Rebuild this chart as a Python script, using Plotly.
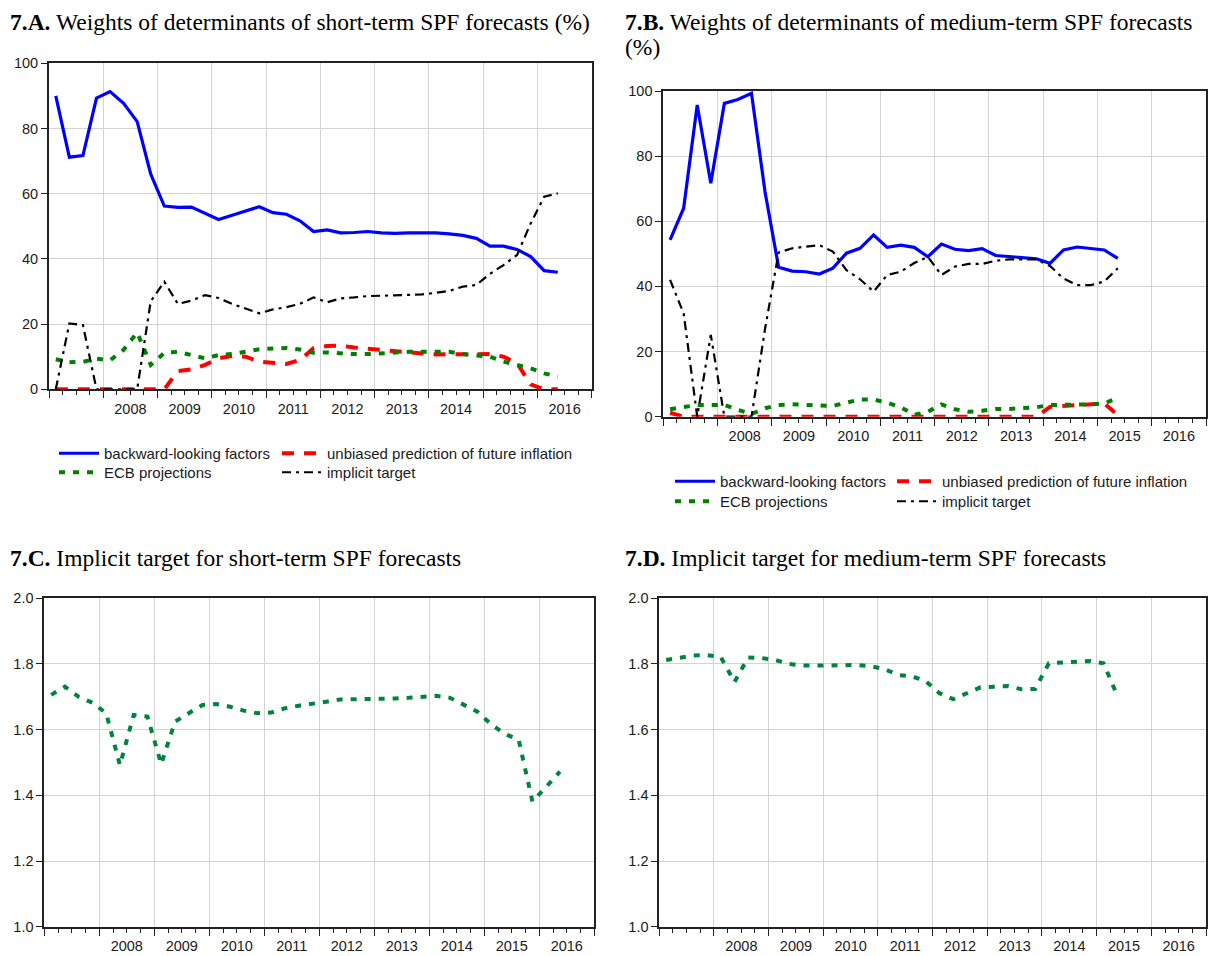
import plotly.graph_objects as go

# ---------------------------------------------------------------------------
# Data: quarterly weights (%) and implicit targets, 2007Q1 onwards
# ---------------------------------------------------------------------------
years = [str(y) for y in range(2008, 2017)]

# 7.A short-term SPF forecasts, 2007Q1-2016Q2
backward_short = [90.0, 71.2, 71.7, 89.3, 91.3, 87.7, 82.1, 66.0, 56.2, 55.8,
                  55.9, 54.0, 52.1, 53.4, 54.7, 56.0, 54.2, 53.7, 51.7, 48.4,
                  48.9, 48.0, 48.1, 48.4, 48.0, 47.8, 48.0, 48.1, 48.0, 47.7,
                  47.2, 46.3, 43.9, 43.9, 42.9, 40.7, 36.4, 35.9]
unbiased_short = [0.0, 0.0, 0.0, 0.0, 0.0, 0.0, 0.0, 0.0, 0.0, 5.6,
                  6.1, 7.5, 9.5, 10.2, 10.0, 8.5, 8.0, 7.8, 9.0, 12.6,
                  13.3, 13.4, 12.8, 12.4, 12.1, 11.5, 11.3, 11.0, 10.7, 10.7,
                  10.7, 11.0, 10.8, 10.0, 8.0, 1.5, 0.0, 0.0]
ecb_short = [9.2, 8.3, 8.4, 9.4, 8.9, 12.1, 17.4, 7.5, 11.2, 11.5,
             10.5, 9.5, 10.5, 10.8, 11.5, 12.3, 12.5, 12.7, 12.2, 11.2,
             11.3, 11.0, 10.8, 10.8, 11.0, 11.5, 11.5, 11.5, 11.5, 11.5,
             10.8, 10.5, 10.0, 8.5, 7.5, 6.4, 4.9, 3.9]
target_w_short = [0.0, 20.2, 19.7, 0.0, 0.0, 0.0, 0.0, 27.0, 33.0, 26.2,
                  27.2, 28.9, 28.0, 26.2, 24.8, 23.3, 24.5, 25.2, 26.2, 28.2,
                  26.7, 27.9, 28.2, 28.6, 28.7, 28.8, 28.9, 29.1, 29.6, 30.2,
                  31.5, 32.0, 35.4, 38.1, 41.2, 50.9, 59.1, 60.1]

# 7.B medium-term SPF forecasts, 2007Q1-2015Q2
backward_med = [54.3, 64.0, 95.7, 71.7, 96.2, 97.4, 99.3, 69.0, 45.9, 44.7,
                44.5, 43.8, 45.6, 50.2, 51.7, 55.8, 52.0, 52.7, 52.0, 49.1,
                53.0, 51.4, 51.0, 51.6, 49.5, 49.1, 48.8, 48.5, 47.1, 51.2,
                52.1, 51.7, 51.2, 48.6]
unbiased_med = [1.2, 0.0, 0.0, 0.0, 0.0, 0.0, 0.0, 0.0, 0.0, 0.0,
                0.0, 0.0, 0.0, 0.0, 0.0, 0.0, 0.0, 0.0, 0.0, 0.0,
                0.0, 0.0, 0.0, 0.0, 0.0, 0.0, 0.0, 0.0, 3.0, 3.3,
                3.6, 3.9, 4.1, 0.5]
ecb_med = [2.3, 2.9, 3.6, 3.6, 3.6, 2.1, 0.8, 2.6, 3.6, 3.8,
           3.6, 3.3, 3.3, 4.3, 5.3, 5.3, 4.3, 2.9, 0.6, 1.5,
           3.8, 2.3, 1.5, 1.8, 2.4, 2.4, 2.6, 2.9, 3.6, 3.5,
           3.7, 3.8, 4.1, 5.8]
target_w_med = [42.0, 31.7, 0.0, 25.1, 0.0, 0.0, 0.0, 27.0, 50.4, 51.7,
                52.2, 52.7, 50.7, 45.0, 42.2, 38.4, 43.5, 44.5, 47.2, 49.1,
                43.5, 46.1, 46.9, 46.9, 47.9, 48.3, 48.3, 48.3, 46.3, 42.4,
                40.4, 40.4, 41.5, 45.6]

# 7.C implicit target, short-term forecasts
target_short = [1.706, 1.731, 1.700, 1.682, 1.650, 1.492, 1.645, 1.640, 1.495, 1.624,
                1.650, 1.675, 1.678, 1.670, 1.658, 1.650, 1.652, 1.665, 1.673, 1.678,
                1.685, 1.692, 1.692, 1.693, 1.693, 1.695, 1.697, 1.700, 1.703, 1.697,
                1.675, 1.655, 1.616, 1.587, 1.569, 1.381, 1.426, 1.472]

# 7.D implicit target, medium-term forecasts
target_med = [1.812, 1.820, 1.826, 1.827, 1.821, 1.745, 1.820, 1.818, 1.812, 1.800,
              1.795, 1.795, 1.796, 1.797, 1.797, 1.793, 1.784, 1.766, 1.762, 1.748,
              1.711, 1.693, 1.711, 1.729, 1.731, 1.733, 1.723, 1.724, 1.802, 1.804,
              1.804, 1.809, 1.802, 1.705]


def quarter_labels(n, start_year=2007):
    return [f"{start_year + k // 4}Q{k % 4 + 1}" for k in range(n)]


def to_decimal_year(labels):
    # each observation sits in the middle of its quarter
    out = []
    for lab in labels:
        y, q = lab.split("Q")
        out.append(int(y) + (int(q) - 0.5) / 4)
    return out


x_short = to_decimal_year(quarter_labels(len(backward_short)))
x_med = to_decimal_year(quarter_labels(len(backward_med)))

# ---------------------------------------------------------------------------
# Styling
# ---------------------------------------------------------------------------
W, H = 1219, 956
SANS = "Liberation Sans, Arial, sans-serif"
SERIF = "Liberation Serif, Times New Roman, serif"
FRAME = "#222222"
GRID = "#d3d3d3"
TICK_FONT = dict(family=SANS, size=14.5, color="#1a1a1a")

BLUE = dict(color="#0000ff", width=3.2)
RED = dict(color="#ff0000", width=4, dash="12px,10px")
GREEN = dict(color="#008000", width=4, dash="6px,8px")
BLACK = dict(color="#000000", width=2.2, dash="9px,5px,3px,5px")
TEAL = dict(color="#00843d", width=4, dash="6px,8px")


def xdom(left, right):
    return [left / W, right / W]


def ydom(top, bottom):
    return [1 - bottom / H, 1 - top / H]


fig = go.Figure()

panels = [
    # (x-axis id, y-axis id, x domain, y domain)
    ("x", "y", xdom(49, 591.7), ydom(63.3, 389.3)),
    ("x2", "y2", xdom(663.3, 1206), ydom(91, 416.7)),
    ("x3", "y3", xdom(44.3, 594.3), ydom(598.3, 926.7)),
    ("x4", "y4", xdom(659.3, 1206), ydom(598.3, 926.7)),
]

series_ab = [
    (x_short, backward_short, unbiased_short, ecb_short, target_w_short, "x", "y", 0),
    (x_med, backward_med, unbiased_med, ecb_med, target_w_med, "x2", "y2", 1),
]
names = ["backward-looking factors", "unbiased prediction of future inflation",
         "ECB projections", "implicit target"]
styles = [BLUE, RED, GREEN, BLACK]

legend_layout = {}
# legend entry anchors: (column x px, row y px) per panel
legend_cols = [(54, 277), (670, 892)]
legend_rows = [(437, 456), (465, 485)]

for xs, b, u, e, t, xa, ya, p in series_ab:
    for k, (vals, nm, st) in enumerate(zip([b, u, e, t], names, styles)):
        col = legend_cols[p][k % 2]
        row = legend_rows[p][k // 2]
        lname = "legend" if (p == 0 and k == 0) else f"legend{p * 4 + k + 1}"
        fig.add_trace(go.Scatter(
            x=xs, y=vals, mode="lines", name=nm, line=st,
            xaxis=xa, yaxis=ya, legend=lname, hoverinfo="skip",
        ))
        legend_layout[lname] = dict(
            x=col / W, y=1 - row / H, xanchor="left", yanchor="top",
            orientation="v", bgcolor="rgba(0,0,0,0)", borderwidth=0,
            font=dict(family=SANS, size=15, color="#1a1a1a"),
            itemwidth=40, tracegroupgap=0,
        )

fig.add_trace(go.Scatter(x=x_short, y=target_short, mode="lines", line=TEAL,
                         xaxis="x3", yaxis="y3", showlegend=False, hoverinfo="skip"))
fig.add_trace(go.Scatter(x=x_med, y=target_med, mode="lines", line=TEAL,
                         xaxis="x4", yaxis="y4", showlegend=False, hoverinfo="skip"))

# empty traces so the year-label axes are drawn
for i in range(4):
    fig.add_trace(go.Scatter(x=[], y=[], xaxis=f"x{5 + i}",
                             yaxis=panels[i][1], showlegend=False, hoverinfo="skip"))

layout = dict(
    width=W, height=H, margin=dict(l=0, r=0, t=0, b=0, pad=0, autoexpand=False),
    paper_bgcolor="white", plot_bgcolor="white", showlegend=True,
)
layout.update(legend_layout)

for i, (xa, ya, xd, yd) in enumerate(panels):
    xkey = "xaxis" if xa == "x" else "xaxis" + xa[1:]
    ykey = "yaxis" if ya == "y" else "yaxis" + ya[1:]
    layout[xkey] = dict(
        domain=xd, anchor=ya, range=[2007, 2017], automargin=False,
        tickmode="linear", tick0=2007, dtick=1,
        ticks="outside", ticklen=7, tickwidth=1, tickcolor=FRAME,
        showticklabels=False,
        showgrid=True, gridcolor=GRID, gridwidth=1,
        showline=True, linecolor=FRAME, linewidth=1.8, mirror=True,
        zeroline=False, fixedrange=True,
        minor=dict(tickmode="linear", tick0=2007, dtick=0.25, ticks="outside",
                   ticklen=4, tickwidth=1, tickcolor=FRAME, showgrid=False),
    )
    # year labels centred in each calendar year
    layout["xaxis" + str(5 + i)] = dict(
        overlaying=xa, anchor=ya, side="bottom", range=[2007, 2017],
        automargin=False,
        tickmode="array", tickvals=[int(y) + 0.5 for y in years], ticktext=years,
        ticks="", showgrid=False, showline=False, zeroline=False,
        tickfont=TICK_FONT, ticklabelstandoff=9, fixedrange=True,
    )
    if i < 2:
        yspec = dict(range=[0, 100], tick0=0, dtick=20)
    else:
        yspec = dict(range=[1.0, 2.0], tick0=1.0, dtick=0.2, tickformat=".1f")
    layout[ykey] = dict(
        domain=yd, anchor=xa, tickmode="linear", automargin=False,
        ticks="outside", ticklen=6, tickwidth=1, tickcolor=FRAME,
        showgrid=True, gridcolor=GRID, gridwidth=1,
        showline=True, linecolor=FRAME, linewidth=1.8, mirror=True,
        zeroline=False, tickfont=TICK_FONT, fixedrange=True, **yspec,
    )

# panel headings: (left px, centre y px, text)
titles = [
    (8, 22, "<b>7.A.</b> Weights of determinants of short-term SPF forecasts (%)"),
    (623, 22, "<b>7.B.</b> Weights of determinants of medium-term SPF forecasts"),
    (623, 47, "(%)"),
    (8, 558, "<b>7.C.</b> Implicit target for short-term SPF forecasts"),
    (623, 558, "<b>7.D.</b> Implicit target for medium-term SPF forecasts"),
]
layout["annotations"] = [
    dict(text=txt, x=px / W, y=1 - py / H, xref="paper", yref="paper",
         xanchor="left", yanchor="middle", showarrow=False, align="left",
         font=dict(family=SERIF, size=23.5, color="#000000"))
    for px, py, txt in titles
]

fig.update_layout(**layout)
fig.write_html("out.html")
